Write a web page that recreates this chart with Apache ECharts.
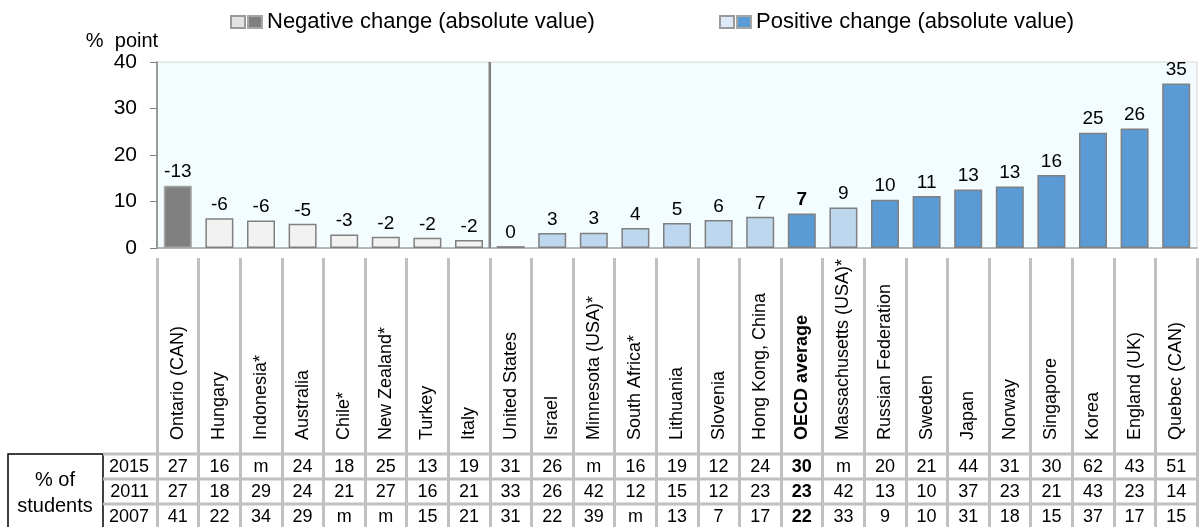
<!DOCTYPE html>
<html>
<head>
<meta charset="utf-8">
<script src="https://cdn.jsdelivr.net/npm/echarts@6/dist/echarts.min.js"></script>
<style>
  html, body { margin: 0; padding: 0; background: #fff; }
  #main { width: 1202px; height: 527px; }
</style>
</head>
<body>
<div id="main"></div>
<script>
// categories (left block = negative change, right block = positive change)
var countries = ['Ontario (CAN)', 'Hungary', 'Indonesia*', 'Australia', 'Chile*', 'New Zealand*', 'Turkey', 'Italy',
  'United States', 'Israel', 'Minnesota (USA)*', 'South Africa*', 'Lithuania', 'Slovenia', 'Hong Kong, China',
  'OECD average', 'Massachusetts (USA)*', 'Russian Federation', 'Sweden', 'Japan', 'Norway', 'Singapore',
  'Korea', 'England (UK)', 'Quebec (CAN)'];
// change in % point 2007-2015 (signed)
var change = [-13.4, -6.4, -5.9, -5.2, -2.9, -2.4, -2.2, -1.7,
  0.4, 3.2, 3.3, 4.3, 5.4, 6.0, 6.7, 7.4, 8.7, 10.4, 11.2, 12.6, 13.2, 15.7, 24.8, 25.7, 35.4];
// 1 = statistically significant (darker bar)
var significant = [1, 0, 0, 0, 0, 0, 0, 0,
  0, 0, 0, 0, 0, 0, 0, 1, 0, 1, 1, 1, 1, 1, 1, 1, 1];
// % of students table
var years = ['2015', '2011', '2007'];
var pct2015 = ['27', '16', 'm', '24', '18', '25', '13', '19', '31', '26', 'm', '16', '19', '12', '24', '30', 'm', '20', '21', '44', '31', '30', '62', '43', '51'];
var pct2011 = ['27', '18', '29', '24', '21', '27', '16', '21', '33', '26', '42', '12', '15', '12', '23', '23', '42', '13', '10', '37', '23', '21', '43', '23', '14'];
var pct2007 = ['41', '22', '34', '29', 'm', 'm', '15', '21', '31', '22', '39', 'm', '13', '7', '17', '22', '33', '9', '10', '31', '18', '15', '37', '17', '15'];
var yMin = 0, yMax = 40, yStep = 10;
var separatorAt = 8; // boundary between negative and positive blocks
var boldName = 'OECD average';

var myChart = echarts.init(document.getElementById('main'));
var FONT = "'Liberation Sans', Arial, sans-serif";

var styles = {
  negDark: { color: '#808080', borderColor: '#a6a6a6' },
  negLight: { color: '#f2f2f2', borderColor: '#808080' },
  posLight: { color: '#bdd7ee', borderColor: '#808080' },
  posDark: { color: '#5b9bd5', borderColor: '#808080' }
};

var barData = change.map(function (c, i) {
  var key = c < 0 ? (significant[i] ? 'negDark' : 'negLight') : (significant[i] ? 'posDark' : 'posLight');
  return {
    value: Math.abs(c),
    itemStyle: { color: styles[key].color, borderColor: styles[key].borderColor, borderWidth: 1.5 },
    label: { fontWeight: countries[i] === boldName ? 'bold' : 'normal' }
  };
});

var boldIdx = countries.indexOf(boldName);
function rowAxis(values, name, offset) {
  return {
    type: 'category',
    gridIndex: 0,
    position: 'bottom',
    offset: offset,
    data: values,
    name: name,
    nameLocation: 'start',
    nameGap: 8,
    nameTextStyle: { fontSize: 18, color: '#000', fontFamily: FONT, verticalAlign: 'middle' },
    axisLine: { show: false },
    axisTick: { show: false },
    axisLabel: {
      interval: 0, margin: 0, fontSize: 18, color: '#000', fontFamily: FONT, verticalAlign: 'middle',
      formatter: function (v, i) { return i === boldIdx ? '{b|' + v + '}' : v; },
      rich: { b: { fontWeight: 'bold', fontSize: 18, fontFamily: FONT } }
    }
  };
}

var option = {
  animation: false,
  textStyle: { fontFamily: FONT },
  legend: [{
    left: 230, top: 11, padding: 0, icon: 'rect', itemWidth: 14, itemHeight: 12, itemGap: 1,
    data: ['negLight', 'negDark'],
    formatter: function (n) { return n === 'negDark' ? 'Negative change (absolute value)' : ''; },
    textStyle: { fontSize: 22, color: '#000', fontFamily: FONT }
  }, {
    left: 719, top: 11, padding: 0, icon: 'rect', itemWidth: 14, itemHeight: 12, itemGap: 1,
    data: ['posLight', 'posDark'],
    formatter: function (n) { return n === 'posDark' ? 'Positive change (absolute value)' : ''; },
    textStyle: { fontSize: 22, color: '#000', fontFamily: FONT }
  }],
  grid: {
    left: 157, right: 5, top: 62, bottom: 279,
    show: true, backgroundColor: '#f3fcfe', borderColor: '#d6d6d6', borderWidth: 1
  },
  xAxis: [{
    type: 'category',
    data: countries,
    axisLine: { lineStyle: { color: '#a6a6a6', width: 1.5 } },
    axisTick: { show: false },
    axisLabel: {
      interval: 0, rotate: 90, align: 'left', verticalAlign: 'middle', margin: 192,
      fontSize: 18, color: '#000', fontFamily: FONT,
      formatter: function (v) { return v === boldName ? '{b|' + v + '}' : v; },
      rich: { b: { fontWeight: 'bold', fontSize: 18, fontFamily: FONT } }
    }
  }, {
    type: 'category',
    data: countries,
    position: 'bottom',
    offset: 10,
    axisLine: { show: false },
    axisTick: { show: true, interval: 0, length: 280, lineStyle: { color: '#c0c0c0', width: 3 } },
    axisLabel: { show: false }
  },
    rowAxis(pct2015, years[0], 219),
    rowAxis(pct2011, years[1], 244),
    rowAxis(pct2007, years[2], 269),
  {
    type: 'value', min: 0, max: countries.length, show: false
  }],
  yAxis: {
    type: 'value',
    min: yMin, max: yMax, interval: yStep,
    name: '%  point',
    nameLocation: 'end',
    nameGap: 4,
    nameTextStyle: { fontSize: 20, color: '#000', align: 'center', padding: [0, 0, 0, -70] },
    axisLine: { show: true, lineStyle: { color: '#808080', width: 1.5 } },
    axisTick: { show: true, length: 7, lineStyle: { color: '#808080' } },
    axisLabel: { fontSize: 21, color: '#000', margin: 20 },
    splitLine: { show: false }
  },
  series: [{
    name: 'change',
    type: 'bar',
    xAxisIndex: 0,
    barWidth: 28,
    data: barData,
    label: {
      show: true, position: 'top', distance: 4, fontSize: 19, color: '#000',
      formatter: function (p) { return String(Math.round(change[p.dataIndex])); }
    }
  }, {
    name: 'separator',
    type: 'line',
    xAxisIndex: 5,
    symbol: 'none',
    silent: true,
    lineStyle: { color: '#808080', width: 2.5 },
    data: [[separatorAt, yMin], [separatorAt, yMax]],
    z: 5
  },
  { name: 'negLight', type: 'bar', xAxisIndex: 1, data: [], itemStyle: { color: '#e3e3e3', borderColor: '#9a9a9a', borderWidth: 1 } },
  { name: 'negDark', type: 'bar', xAxisIndex: 1, data: [], itemStyle: { color: '#808080', borderColor: '#a6a6a6', borderWidth: 1 } },
  { name: 'posLight', type: 'bar', xAxisIndex: 1, data: [], itemStyle: { color: '#dde9f6', borderColor: '#9a9a9a', borderWidth: 1 } },
  { name: 'posDark', type: 'bar', xAxisIndex: 1, data: [], itemStyle: { color: '#5b9bd5', borderColor: '#a6a6a6', borderWidth: 1 } }
  ],
  graphic: [
    { type: 'rect', shape: { x: 8, y: 454, width: 95, height: 80 }, style: { fill: 'none', stroke: '#000', lineWidth: 1.5 }, silent: true },
    { type: 'line', shape: { x1: 103, y1: 454, x2: 1198, y2: 454 }, style: { stroke: '#c0c0c0', lineWidth: 3 }, silent: true },
    { type: 'line', shape: { x1: 103, y1: 479, x2: 1198, y2: 479 }, style: { stroke: '#c0c0c0', lineWidth: 3 }, silent: true },
    { type: 'line', shape: { x1: 103, y1: 504, x2: 1198, y2: 504 }, style: { stroke: '#c0c0c0', lineWidth: 3 }, silent: true },
    { type: 'text', style: { text: '% of', x: 55, y: 480, font: '20px ' + FONT, fill: '#000', align: 'center', verticalAlign: 'middle' }, silent: true },
    { type: 'text', style: { text: 'students', x: 55, y: 506, font: '20px ' + FONT, fill: '#000', align: 'center', verticalAlign: 'middle' }, silent: true }
  ]
};
myChart.setOption(option);
</script>
</body>
</html>
